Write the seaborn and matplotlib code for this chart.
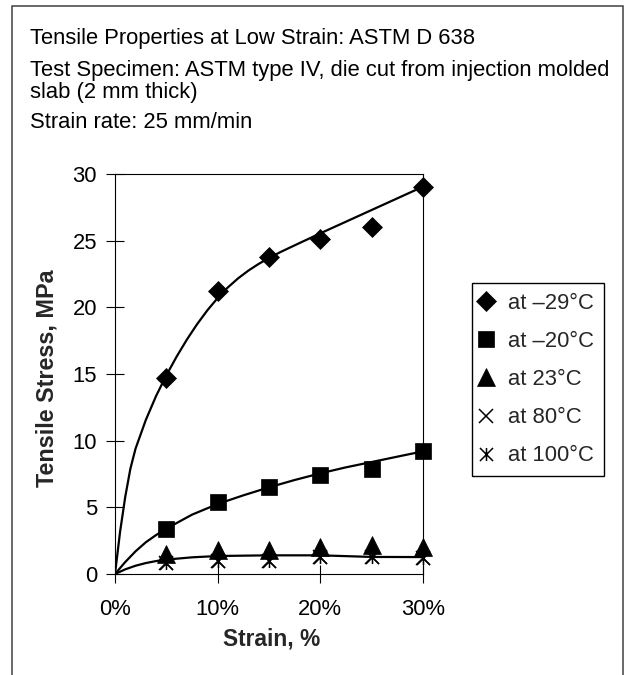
import numpy as np
import pandas as pd
import matplotlib
matplotlib.use("Agg")
import matplotlib.pyplot as plt
from matplotlib.path import Path
from matplotlib.patches import Rectangle
import seaborn as sns

# ---- data ----
strain = [5, 10, 15, 20, 25, 30]                       # %
stress_m29 = [14.7, 21.2, 23.8, 25.1, 26.0, 29.05]      # MPa at -29 C
stress_m20 = [3.4, 5.4, 6.55, 7.4, 7.9, 9.2]            # MPa at -20 C
stress_23 = [1.5, 1.8, 1.8, 2.0, 2.2, 2.0]              # MPa at 23 C
stress_80 = [0.8, 1.0, 1.0, 1.3, 1.3, 1.2]              # MPa at 80 C
stress_100 = [0.8, 1.0, 1.0, 1.3, 1.3, 1.2]             # MPa at 100 C

# trend curves
fit_m29_x = [0, 0.5, 1, 1.5, 2, 3, 4, 5, 6, 7, 8, 9, 10, 11, 12, 13, 14, 15,
             16, 17, 18, 19, 20, 25, 30]
fit_m29_y = [0, 3.2, 5.8, 7.9, 9.4, 11.55, 13.35, 14.9, 16.3, 17.58, 18.74, 19.78, 20.7,
             21.5, 22.18, 22.76, 23.26, 23.7, 24.1, 24.47, 24.83, 25.19, 25.55, 27.3, 29.05]
fit_m20_x = [0, 1, 2, 3, 4, 5, 7.5, 10, 12.5, 15, 17.5, 20, 22.5, 25, 27.5, 30]
fit_m20_y = [0, 0.9, 1.7, 2.38, 2.92, 3.4, 4.45, 5.25, 5.9, 6.5, 7.05, 7.55, 8.0, 8.4, 8.8, 9.2]
fit_23_x = [0, 1, 2, 3, 4, 5, 7.5, 10, 15, 20, 25, 30]
fit_23_y = [0, 0.35, 0.62, 0.82, 0.97, 1.08, 1.25, 1.35, 1.4, 1.4, 1.28, 1.27]

labels = ["at \u201329\u00b0C", "at \u201320\u00b0C", "at 23\u00b0C", "at 80\u00b0C", "at 100\u00b0C"]
title_lines = ["Tensile Properties at Low Strain: ASTM D 638",
               "Test Specimen: ASTM type IV, die cut from injection molded",
               "slab (2 mm thick)",
               "Strain rate: 25 mm/min"]
x_ticks = [0, 10, 20, 30]
x_ticklabels = ["0%", "10%", "20%", "30%"]
y_ticks = [0, 5, 10, 15, 20, 25, 30]

# ---- style ----
sns.set_style("ticks")
plt.rcParams["font.family"] = ["Liberation Sans", "DejaVu Sans"]
FS = 15.8

W, H = 626, 675
fig = plt.figure(figsize=(W / 100, H / 100), dpi=100)
ax = fig.add_axes([115 / W, 1 - 574 / H, 308 / W, 400 / H])

asterisk = Path([(0, -1), (0, 1), (-1, -1), (1, 1), (-1, 1), (1, -1)],
                [Path.MOVETO, Path.LINETO, Path.MOVETO, Path.LINETO, Path.MOVETO, Path.LINETO])

df = pd.DataFrame({"strain": strain, "m29": stress_m29, "m20": stress_m20,
                   "t23": stress_23, "t80": stress_80, "t100": stress_100})

common = dict(ax=ax, color="black", linestyle="", errorbar=None, clip_on=False)
sns.lineplot(data=df, x="strain", y="t100", marker=asterisk, markersize=9.4,
             markeredgewidth=1.1, markeredgecolor="black", label=labels[4], **common)
sns.lineplot(data=df, x="strain", y="t80", marker="x", markersize=9.4,
             markeredgewidth=1.1, markeredgecolor="black", label=labels[3], **common)

for fx, fy in [(fit_m29_x, fit_m29_y), (fit_m20_x, fit_m20_y), (fit_23_x, fit_23_y)]:
    sns.lineplot(x=fx, y=fy, ax=ax, color="black", linewidth=1.6, errorbar=None,
                 legend=False, sort=False)

sns.lineplot(data=df, x="strain", y="t23", marker="^", markersize=12.5,
             markeredgewidth=0.5, markeredgecolor="black", label=labels[2], **common)
sns.lineplot(data=df, x="strain", y="m20", marker="s", markersize=12.0,
             markeredgewidth=0.5, markeredgecolor="black", label=labels[1], **common)
sns.lineplot(data=df, x="strain", y="m29", marker="D", markersize=10.2,
             markeredgewidth=0.5, markeredgecolor="black", label=labels[0], **common)

ax.set_xlim(0, 30)
ax.set_ylim(0, 30)
ax.set_xticks(x_ticks)
ax.set_xticklabels(x_ticklabels)
ax.set_yticks(y_ticks)
ax.set_yticklabels([str(v) for v in y_ticks])
ax.tick_params(axis="both", direction="inout", length=13, width=0.8, color="black",
               labelsize=FS, labelcolor="black")
ax.tick_params(axis="x", pad=11.5)
ax.tick_params(axis="y", pad=6.5)
for s in ax.spines.values():
    s.set_visible(True)
    s.set_color("black")
    s.set_linewidth(0.8)

ax.set_xlabel("Strain, %", fontsize=FS + 0.6, fontweight="bold", va="center")
ax.xaxis.set_label_coords((272 - 115) / 308, (574 - 639) / 400)
ax.set_ylabel("Tensile Stress, MPa", fontsize=FS + 1.0, fontweight="bold", va="center")
ax.yaxis.set_label_coords((47 - 115) / 308, (574 - 378) / 400)

# legend in desired order
handles, labs = ax.get_legend_handles_labels()
order = [labs.index(l) for l in labels]
leg = ax.legend([handles[i] for i in order], [labs[i] for i in order],
                loc="upper left", bbox_to_anchor=(472 / W, 1 - 283 / H),
                bbox_transform=fig.transFigure, fontsize=FS, frameon=True,
                fancybox=False, shadow=False, borderpad=0.45, borderaxespad=0,
                handlelength=0.4, handletextpad=0.8, labelspacing=0.78)
leg.get_frame().set_edgecolor("black")
leg.get_frame().set_linewidth(1.0)
leg.get_frame().set_facecolor("white")
leg.get_frame().set_alpha(1)

# header text
for txt, yb in zip(title_lines, [44, 76, 98, 128]):
    fig.text(30 / W, 1 - yb / H, txt, fontsize=FS, ha="left", va="baseline", color="black")

# outer border (open at bottom)
fig.patches.append(Rectangle((12 / W, -0.05), (623 - 12) / W, 1.05 - 6 / H,
                             transform=fig.transFigure, fill=False,
                             edgecolor="#404040", linewidth=1.1))

fig.savefig("out.png", dpi=100)
